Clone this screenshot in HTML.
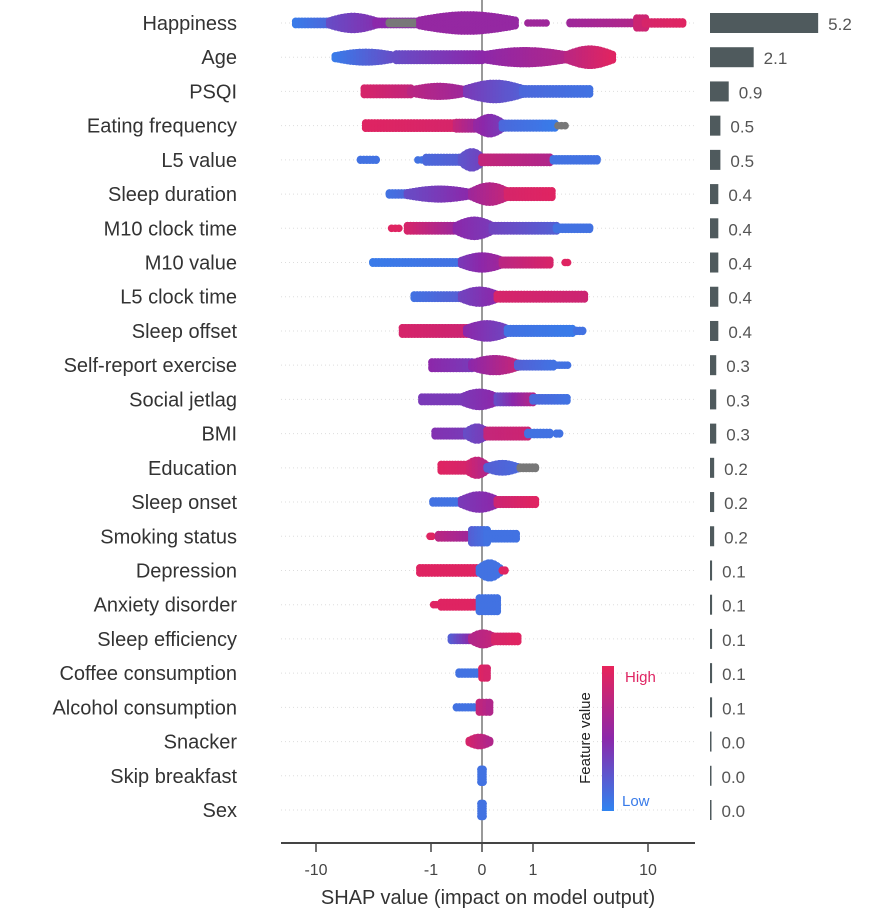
<!DOCTYPE html>
<html><head><meta charset="utf-8"><style>
body{margin:0;background:#fff;width:896px;height:924px;overflow:hidden;font-family:"Liberation Sans",sans-serif}
svg{display:block}
</style></head><body>
<svg id="c" width="896" height="924" xmlns="http://www.w3.org/2000/svg"></svg>
<script>
const features=["Happiness","Age","PSQI","Eating frequency","L5 value","Sleep duration","M10 clock time","M10 value","L5 clock time","Sleep offset","Self-report exercise","Social jetlag","BMI","Education","Sleep onset","Smoking status","Depression","Anxiety disorder","Sleep efficiency","Coffee consumption","Alcohol consumption","Snacker","Skip breakfast","Sex"];
const importance=[5.2,2.1,0.9,0.5,0.5,0.4,0.4,0.4,0.4,0.4,0.3,0.3,0.3,0.2,0.2,0.2,0.1,0.1,0.1,0.1,0.1,0.0,0.0,0.0];
const xTicks=[-10,-1,0,1,10];
// segments: [shapFrom, shapTo, stackCount, featureValueFrom, featureValueTo] (-1 = missing/gray)
const swarms=[
[[-15,-7.6,1,0.05,0.15],[-7.6,-3,2.5,0.3,0.45],[-3,-1.25,1,0.5,0.5],[-2.3,-1.3,0.7,-1,-1],[-1.25,0.65,3,0.55,0.55],[0.9,1.3,0.5,0.6,0.6],[2.1,8,0.7,0.6,0.7],[8,9.5,2,0.85,0.85],[9.5,20,0.8,0.9,0.95]],
[[-6.8,-2,2,0.05,0.3],[-2,0,1.5,0.3,0.5],[0,2,2.5,0.5,0.7],[2,4.9,3,0.75,0.95]],
[[-3.8,-1.5,1.5,0.9,0.8],[-1.5,-0.3,2,0.75,0.6],[-0.3,0.8,3,0.4,0.2],[0.8,3.1,1.3,0.15,0.1]],
[[-3.7,-0.5,1.3,0.95,0.9],[-0.5,-0.1,1.5,0.8,0.6],[-0.1,0.4,3,0.55,0.4],[0.4,1.55,1.2,0.15,0.05],[1.65,1.9,0.5,-1,-1]],
[[-4.1,-3.0,0.6,0.1,0.1],[-1.3,-1.2,0.5,0.1,0.1],[-1.1,-0.4,1.2,0.15,0.2],[-0.4,0,3,0.25,0.35],[0,1.4,1.3,0.8,0.7],[1.5,3.6,0.8,0.1,0.1]],
[[-2.3,-1.6,0.8,0.1,0.15],[-1.6,-0.2,2,0.3,0.5],[-0.2,0.5,3,0.6,0.8],[0.5,1.46,1.5,0.9,0.95]],
[[-2.2,-1.9,0.5,0.95,0.95],[-1.6,-0.5,1.3,0.9,0.6],[-0.5,0.2,3,0.5,0.4],[0.2,1.6,1.3,0.35,0.2],[1.6,3.1,0.8,0.1,0.1]],
[[-3.2,-0.4,0.7,0.05,0.1],[-0.4,0.4,2.5,0.4,0.6],[0.4,1.4,1.2,0.75,0.9],[1.9,2.0,0.5,0.95,0.95]],
[[-1.4,-0.4,1,0.1,0.2],[-0.4,0.3,2.5,0.35,0.5],[0.3,2.8,1.2,0.9,0.85]],
[[-1.77,-0.3,1.5,0.9,0.85],[-0.3,0.5,2.7,0.5,0.35],[0.5,2.2,1.2,0.1,0.05],[2.4,2.7,0.6,0.1,0.1]],
[[-0.98,-0.2,1.5,0.5,0.4],[-0.2,0.7,2.5,0.5,0.8],[0.7,1.5,1,0.2,0.1],[1.6,2.0,0.5,0.1,0.1]],
[[-1.2,-0.4,1.2,0.4,0.4],[-0.4,0.3,2.7,0.4,0.5],[0.3,1.0,1.5,0.3,0.7],[1.0,1.97,1.0,0.15,0.1]],
[[-0.92,-0.3,1.2,0.45,0.4],[-0.3,0.1,2.5,0.3,0.4],[0.1,0.9,1.5,0.8,0.85],[0.9,1.4,0.8,0.1,0.1],[1.6,1.7,0.6,0.1,0.1]],
[[-0.8,-0.3,1.5,0.95,0.9],[-0.3,0.1,2.8,0.9,0.7],[0.1,0.7,1.8,0.2,0.15],[0.75,1.05,0.7,-1,-1]],
[[-0.96,-0.4,0.8,0.1,0.1],[-0.4,0.3,2.7,0.4,0.5],[0.3,1.05,1.2,0.85,0.95]],
[[-1.02,-0.98,0.5,0.95,0.95],[-0.85,-0.2,1,0.75,0.6],[-0.2,0.1,2.5,0.2,0.1],[0.1,0.67,1.3,0.1,0.1]],
[[-1.25,-0.05,1.3,0.95,0.95],[-0.05,0.35,2.8,0.1,0.1],[0.4,0.45,0.6,0.95,0.95]],
[[-0.95,-0.9,0.5,0.95,0.95],[-0.8,-0.05,1.2,0.95,0.95],[-0.05,0.3,2.6,0.1,0.1]],
[[-0.6,-0.2,1,0.2,0.5],[-0.2,0.25,2.3,0.7,0.8],[0.25,0.7,1.3,0.9,0.95]],
[[-0.45,-0.1,0.8,0.1,0.1],[0,0.1,2,0.95,0.9]],
[[-0.5,-0.1,0.6,0.1,0.1],[-0.05,0.15,2,0.8,0.7]],
[[-0.25,0.15,1.8,0.9,0.7]],
[[-0.02,0.02,2.5,0.1,0.1]],
[[-0.02,0.02,2.5,0.1,0.1]]
];
const NS="http://www.w3.org/2000/svg";
const svg=document.getElementById('c');
const X0=482,LIN=51,DEC=115;
function xScale(v){const a=Math.abs(v);const d=a<=1?a*LIN:LIN+DEC*Math.log10(a);return X0+(v<0?-d:d);}
const Y0=23,DY=(810-23)/23;
function yScale(i){return Y0+i*DY;}
const BAR_X=710,BAR_K=20.8;
function col(t){
 if(t<0)return 'rgb(120,120,120)';
 const B=[48,132,240],P=[140,40,170],R=[232,36,90];
 let a,b,u;if(t<0.5){a=B;b=P;u=t/0.5}else{a=P;b=R;u=(t-0.5)/0.5}
 return 'rgb('+a.map((x,i)=>Math.round(x+(b[i]-x)*u)).join(',')+')';
}
function mk(tag,attrs,parent){const e=document.createElementNS(NS,tag);for(const k in attrs)e.setAttribute(k,attrs[k]);(parent||svg).appendChild(e);return e;}
features.forEach((f,i)=>{
 const l=mk('line',{x1:281,x2:695,y1:yScale(i),y2:yScale(i),stroke:'#ddd','stroke-width':1,'stroke-dasharray':'1 3'});
 
 
});
const z=mk('line',{x1:xScale(0),x2:xScale(0),y1:0,y2:843,stroke:'#999','stroke-width':2});


swarms.forEach((segs,i)=>{
 const g=mk('g',{});
 
 
 const y=yScale(i);
 segs.forEach(s=>{
  const p0=xScale(s[0]),p1=xScale(s[1]);
  const n=Math.max(1,Math.round((p1-p0)/3));
  for(let k=0;k<=n;k++){
   const px=p0+(p1-p0)*k/n;const t=n?k/n:0;
   const c=s[3]<0?-1:s[3]+(s[4]-s[3])*t;
   const taper=(s[2]>1.5&&(p1-p0)>20)?(0.45+0.55*Math.sin(Math.PI*t)):1;
   const half=Math.max(0,(s[2]*taper-0.5)*3.2);
   for(let dy=-half;dy<=half+0.01;dy+=Math.max(2.5,half/3||2.5)){
    mk('circle',{cx:px.toFixed(1),cy:(y+dy).toFixed(1),r:3.8,fill:col(c)},g);
   }
   if(half>0)[-half,half].forEach(dy=>mk('circle',{cx:px.toFixed(1),cy:(y+dy).toFixed(1),r:3.8,fill:col(c)},g));
  }
 });
});
features.forEach((f,i)=>{
 const y=yScale(i);
 const t=mk('text',{x:237,y:y+7,'text-anchor':'end','font-size':20,fill:'#333'});
 t.textContent=f;
 
 
 const w=Math.max(1.5,importance[i]*BAR_K);
 const b=mk('rect',{x:BAR_X,y:y-10,width:w,height:20,fill:'#4f5a5d'});
 
 
 const v=mk('text',{x:BAR_X+w+10,y:y+7,'font-size':17,fill:'#555'});
 v.textContent=importance[i].toFixed(1);
 
 
});
const ax=mk('line',{x1:281,x2:695,y1:843,y2:843,stroke:'#444','stroke-width':2});


xTicks.forEach(v=>{
 const x=xScale(v);
 const tk=mk('line',{x1:x,x2:x,y1:843,y2:852,stroke:'#444','stroke-width':1.5});
 
 
 const tl=mk('text',{x:x,y:875,'text-anchor':'middle','font-size':16,fill:'#444'});
 tl.textContent=String(v);
 
 
});
const xt=mk('text',{x:488,y:904,'text-anchor':'middle','font-size':20,fill:'#333'});
xt.textContent='SHAP value (impact on model output)';


const defs=mk('defs',{});
const lg=mk('linearGradient',{id:'cb',x1:0,y1:1,x2:0,y2:0},defs);
mk('stop',{offset:'0',  'stop-color':col(0)},lg);
mk('stop',{offset:'0.5','stop-color':col(0.5)},lg);
mk('stop',{offset:'1',  'stop-color':col(1)},lg);
const cb=mk('rect',{x:602,y:666,width:12,height:145,fill:'url(#cb)'});


const hi=mk('text',{x:625,y:682,'font-size':15,fill:col(0.95)});hi.textContent='High';


const lo=mk('text',{x:622,y:806,'font-size':15,fill:col(0.05)});lo.textContent='Low';


const fv=mk('text',{x:0,y:0,'font-size':15,fill:'#222','text-anchor':'middle',transform:'translate(590,738) rotate(-90)'});
fv.textContent='Feature value';


</script>
</body></html>
